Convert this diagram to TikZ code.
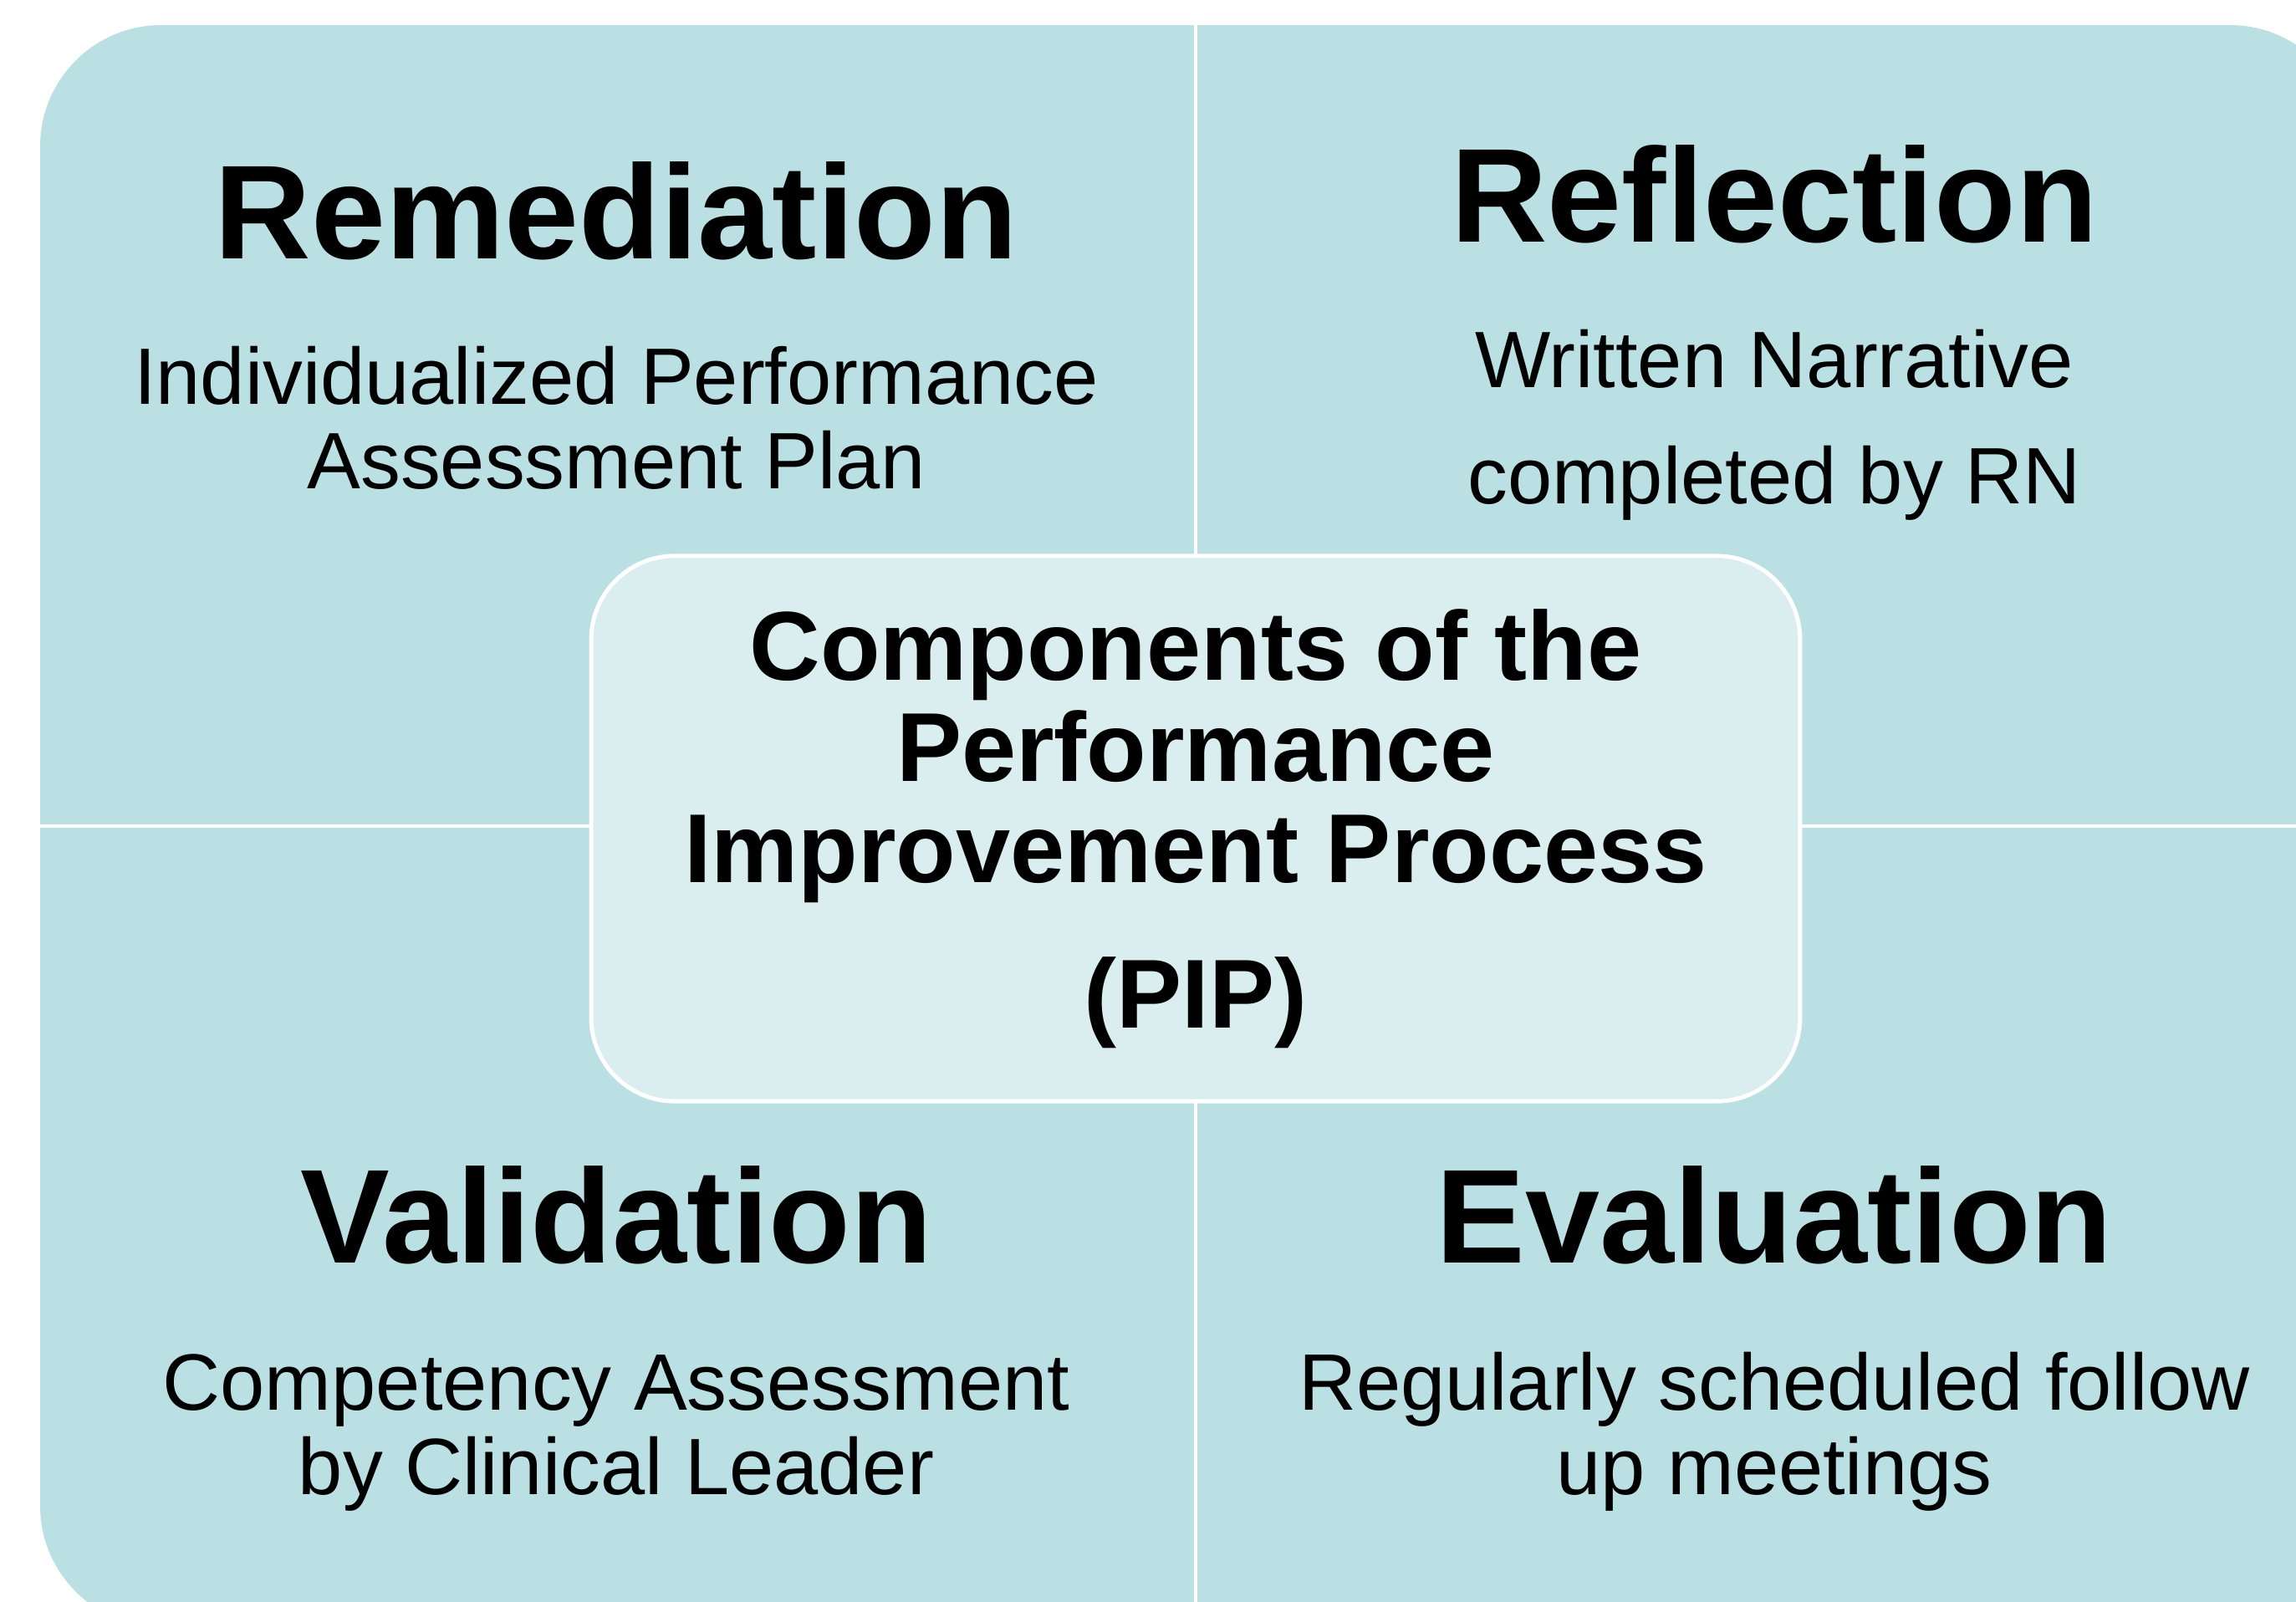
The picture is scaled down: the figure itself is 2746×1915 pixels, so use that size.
\documentclass[tikz,border=0pt]{standalone}
\usepackage{fontspec}
\setmainfont{Liberation Sans}
\usetikzlibrary{positioning}
\definecolor{quadfill}{RGB}{187,224,227}
\definecolor{corefill}{RGB}{218,237,239}

\begin{document}
\begin{tikzpicture}[x=0.01cm,y=-0.01cm,
	heading/.style={font=\fontsize{45.5}{50}\selectfont\bfseries,anchor=base,inner sep=0},
	detail/.style={font=\fontsize{27.2}{28.45}\selectfont,align=center,anchor=base,inner sep=0},
	gap/.style={white,line width=1.4pt}]
	\useasboundingbox (0,0) rectangle (2746,1915);
	\clip (0,0) rectangle (2746,1915);
	%% quadrants
	\fill[quadfill,rounded corners=1.45cm] (48,30) rectangle (2812,1946);
	\draw[gap] (1430,30) -- (1430,1946);
	\draw[gap] (48,988) -- (2812,988);
	%% centre
	\node[draw=white,line width=1.4pt,fill=corefill,rounded corners=1cm,inner sep=0,
		minimum width=14.45cm,minimum height=6.52cm,align=center,
		font=\fontsize{33.3}{34.4}\selectfont\bfseries] (pip) at (1430,991)
		{Components of the\\Performance\\Improvement Process\\[15pt](PIP)};
	% 四个区块
	\node[heading] (rem) at (737,309) {Remediation};
	\node[detail] (remtxt) at (737,584) {Individualized Performance\\Assessment Plan};
	\node[heading] (ref) at (2122,289) {Reflection};
	\node[detail] (reftxt) at (2122,602) {Written Narrative\\[10.8pt]completed by RN};
	\node[heading] (val) at (737,1510) {Validation};
	\node[detail] (valtxt) at (737,1787) {Competency Assessment\\by Clinical Leader};
	\node[heading] (eva) at (2122,1510) {Evaluation};
	\node[detail] (evatxt) at (2122,1787) {Regularly scheduled follow\\up meetings};
\end{tikzpicture}
\end{document}
